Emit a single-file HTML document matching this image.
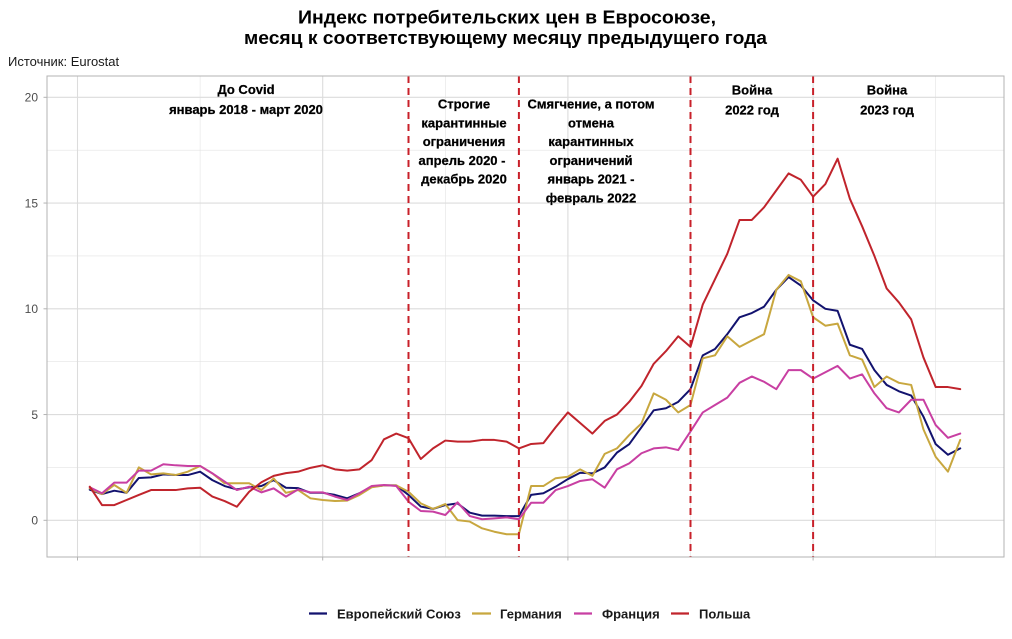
<!DOCTYPE html>
<html><head><meta charset="utf-8"><style>
html,body{margin:0;padding:0;background:#fff;}
svg{display:block;font-family:"Liberation Sans","Noto Sans CJK SC",sans-serif;}
</style></head><body>
<svg width="1012" height="639" viewBox="0 0 1012 639" xmlns="http://www.w3.org/2000/svg">
<rect width="1012" height="639" fill="#fff"/>
<!-- title -->
<text x="298" y="23.5" font-size="18.5" font-weight="bold" fill="#000" textLength="418" lengthAdjust="spacingAndGlyphs">Индекс потребительских цен в Евросоюзе,</text>
<text x="244" y="44" font-size="18.5" font-weight="bold" fill="#000" textLength="523" lengthAdjust="spacingAndGlyphs">месяц к соответствующему месяцу предыдущего года</text>
<text x="8" y="66" font-size="13" fill="#1a1a1a">Источник: Eurostat</text>

<!-- grid -->
<g stroke="#e3e3e3" stroke-width="0.6">
<line x1="47" x2="1004" y1="467.4" y2="467.4"/>
<line x1="47" x2="1004" y1="361.7" y2="361.7"/>
<line x1="47" x2="1004" y1="255.9" y2="255.9"/>
<line x1="47" x2="1004" y1="150.2" y2="150.2"/>
<line y1="76" y2="557" x1="200.1" x2="200.1"/>
<line y1="76" y2="557" x1="445.3" x2="445.3"/>
<line y1="76" y2="557" x1="690.5" x2="690.5"/>
<line y1="76" y2="557" x1="935.7" x2="935.7"/>
</g>
<g stroke="#dcdcdc" stroke-width="1.1">
<line x1="47" x2="1004" y1="520.3" y2="520.3"/>
<line x1="47" x2="1004" y1="414.55" y2="414.55"/>
<line x1="47" x2="1004" y1="308.8" y2="308.8"/>
<line x1="47" x2="1004" y1="203.05" y2="203.05"/>
<line x1="47" x2="1004" y1="97.3" y2="97.3"/>
<line y1="76" y2="557" x1="77.5" x2="77.5"/>
<line y1="76" y2="557" x1="322.7" x2="322.7"/>
<line y1="76" y2="557" x1="567.9" x2="567.9"/>
<line y1="76" y2="557" x1="813.1" x2="813.1"/>
</g>

<!-- y labels -->
<g font-size="12" fill="#4d4d4d" text-anchor="end">
<text x="38" y="524.5">0</text>
<text x="38" y="418.8">5</text>
<text x="38" y="313">10</text>
<text x="38" y="207.3">15</text>
<text x="38" y="101.5">20</text>
</g>
<g stroke="#b3b3b3" stroke-width="1">
<line x1="43.5" x2="47" y1="520.3" y2="520.3"/>
<line x1="43.5" x2="47" y1="414.55" y2="414.55"/>
<line x1="43.5" x2="47" y1="308.8" y2="308.8"/>
<line x1="43.5" x2="47" y1="203.05" y2="203.05"/>
<line x1="43.5" x2="47" y1="97.3" y2="97.3"/>
<line y1="557" y2="560.5" x1="77.5" x2="77.5"/>
<line y1="557" y2="560.5" x1="322.7" x2="322.7"/>
<line y1="557" y2="560.5" x1="567.9" x2="567.9"/>
<line y1="557" y2="560.5" x1="813.1" x2="813.1"/>
</g>

<!-- series -->
<g transform="translate(77.5,520.3) scale(12.26,-21.15)" fill="none" stroke-width="2" stroke-linejoin="round" stroke-linecap="round">
<polyline vector-effect="non-scaling-stroke" stroke="#12126e" points="1,1.45 2,1.24 3,1.4 4,1.3 5,2.0 6,2.03 7,2.17 8,2.14 9,2.14 10,2.3 11,1.9 12,1.62 13,1.46 14,1.56 15,1.62 16,1.9 17,1.54 18,1.52 19,1.3 20,1.3 21,1.2 22,1.04 23,1.28 24,1.59 25,1.65 26,1.65 27,1.2 28,0.65 29,0.54 30,0.72 31,0.8 32,0.36 33,0.22 34,0.22 35,0.2 36,0.2 37,1.2 38,1.28 39,1.59 40,1.95 41,2.25 42,2.22 43,2.5 44,3.2 45,3.6 46,4.4 47,5.2 48,5.3 49,5.6 50,6.2 51,7.8 52,8.1 53,8.8 54,9.6 55,9.8 56,10.1 57,10.9 58,11.5 59,11.1 60,10.4 61,10.0 62,9.9 63,8.3 64,8.1 65,7.1 66,6.4 67,6.1 68,5.9 69,4.9 70,3.6 71,3.1 72,3.4"/>
<polyline vector-effect="non-scaling-stroke" stroke="#c8a73f" points="1,1.51 2,1.24 3,1.67 4,1.3 5,2.5 6,2.17 7,2.22 8,2.14 9,2.3 10,2.57 11,2.22 12,1.75 13,1.75 14,1.75 15,1.43 16,1.98 17,1.3 18,1.43 19,1.04 20,0.96 21,0.91 22,0.93 23,1.2 24,1.56 25,1.65 26,1.65 27,1.35 28,0.8 29,0.54 30,0.77 31,0.01 32,-0.06 33,-0.38 34,-0.54 35,-0.66 36,-0.66 37,1.62 38,1.62 39,1.99 40,2.06 41,2.41 42,2.1 43,3.14 44,3.4 45,4.03 46,4.58 47,6.0 48,5.7 49,5.1 50,5.45 51,7.66 52,7.8 53,8.7 54,8.2 55,8.5 56,8.8 57,10.9 58,11.6 59,11.3 60,9.6 61,9.2 62,9.3 63,7.8 64,7.6 65,6.3 66,6.8 67,6.5 68,6.4 69,4.3 70,3.0 71,2.3 72,3.8"/>
<polyline vector-effect="non-scaling-stroke" stroke="#c83fa2" points="1,1.56 2,1.28 3,1.78 4,1.78 5,2.35 6,2.35 7,2.65 8,2.6 9,2.57 10,2.57 11,2.22 12,1.83 13,1.43 14,1.59 15,1.32 16,1.51 17,1.12 18,1.46 19,1.32 20,1.32 21,1.12 22,0.96 23,1.28 24,1.62 25,1.67 26,1.62 27,0.88 28,0.44 29,0.41 30,0.25 31,0.85 32,0.2 33,0.05 34,0.09 35,0.14 36,0.05 37,0.83 38,0.83 39,1.43 40,1.62 41,1.86 42,1.94 43,1.54 44,2.41 45,2.69 46,3.17 47,3.4 48,3.45 49,3.32 50,4.2 51,5.1 52,5.45 53,5.8 54,6.5 55,6.8 56,6.55 57,6.2 58,7.1 59,7.1 60,6.7 61,7.0 62,7.3 63,6.7 64,6.9 65,6.0 66,5.3 67,5.1 68,5.7 69,5.7 70,4.5 71,3.9 72,4.1"/>
<polyline vector-effect="non-scaling-stroke" stroke="#c0242c" points="1,1.59 2,0.72 3,0.72 4,0.96 5,1.2 6,1.43 7,1.43 8,1.43 9,1.51 10,1.54 11,1.12 12,0.91 13,0.64 14,1.35 15,1.8 16,2.1 17,2.23 18,2.3 19,2.48 20,2.6 21,2.41 22,2.35 23,2.41 24,2.85 25,3.83 26,4.1 27,3.88 28,2.9 29,3.4 30,3.77 31,3.72 32,3.72 33,3.8 34,3.8 35,3.72 36,3.4 37,3.61 38,3.65 39,4.4 40,5.1 41,4.6 42,4.1 43,4.7 44,5.0 45,5.6 46,6.35 47,7.4 48,8.0 49,8.7 50,8.2 51,10.2 52,11.4 53,12.6 54,14.2 55,14.2 56,14.8 57,15.6 58,16.4 59,16.1 60,15.3 61,15.9 62,17.1 63,15.2 64,13.9 65,12.5 66,10.96 67,10.3 68,9.5 69,7.7 70,6.3 71,6.3 72,6.2"/>
</g>

<!-- dashed separators -->
<g stroke="#c8202a" stroke-width="2" stroke-dasharray="7 5">
<line x1="408.5" x2="408.5" y1="76" y2="557"/>
<line x1="518.9" x2="518.9" y1="76" y2="557"/>
<line x1="690.5" x2="690.5" y1="76" y2="557"/>
<line x1="813.1" x2="813.1" y1="76" y2="557"/>
</g>

<!-- panel border -->
<rect x="47" y="76" width="957" height="481" fill="none" stroke="#b3b3b3" stroke-width="1"/>

<!-- annotations -->
<g font-size="13" font-weight="bold" fill="#000" text-anchor="middle" stroke="#000" stroke-width="0.25">
<text x="246" y="94">До Covid</text>
<text x="246" y="114">январь 2018 - март 2020</text>
<text x="464" y="108.5">Строгие</text>
<text x="464" y="127.3">карантинные</text>
<text x="464" y="146.1">ограничения</text>
<text x="462" y="164.9">апрель 2020 -</text>
<text x="464" y="183.7">декабрь 2020</text>
<text x="591" y="108.5">Смягчение, а потом</text>
<text x="591" y="127.3">отмена</text>
<text x="591" y="146.1">карантинных</text>
<text x="591" y="164.9">ограничений</text>
<text x="591" y="183.7">январь 2021 -</text>
<text x="591" y="202.5">февраль 2022</text>
<text x="752" y="94.5">Война</text>
<text x="752" y="114.5">2022 год</text>
<text x="887" y="94.5">Война</text>
<text x="887" y="114.5">2023 год</text>
</g>

<!-- legend -->
<g stroke-width="2.2">
<line x1="309" x2="327" y1="613.5" y2="613.5" stroke="#12126e"/>
<line x1="472" x2="491" y1="613.5" y2="613.5" stroke="#c8a73f"/>
<line x1="574" x2="592" y1="613.5" y2="613.5" stroke="#c83fa2"/>
<line x1="671" x2="689" y1="613.5" y2="613.5" stroke="#c0242c"/>
</g>
<g font-size="13" font-weight="bold" fill="#1a1a1a">
<text x="337" y="618.5">Европейский Союз</text>
<text x="500" y="618.5">Германия</text>
<text x="602" y="618.5">Франция</text>
<text x="699" y="618.5">Польша</text>
</g>
</svg>
</body></html>
